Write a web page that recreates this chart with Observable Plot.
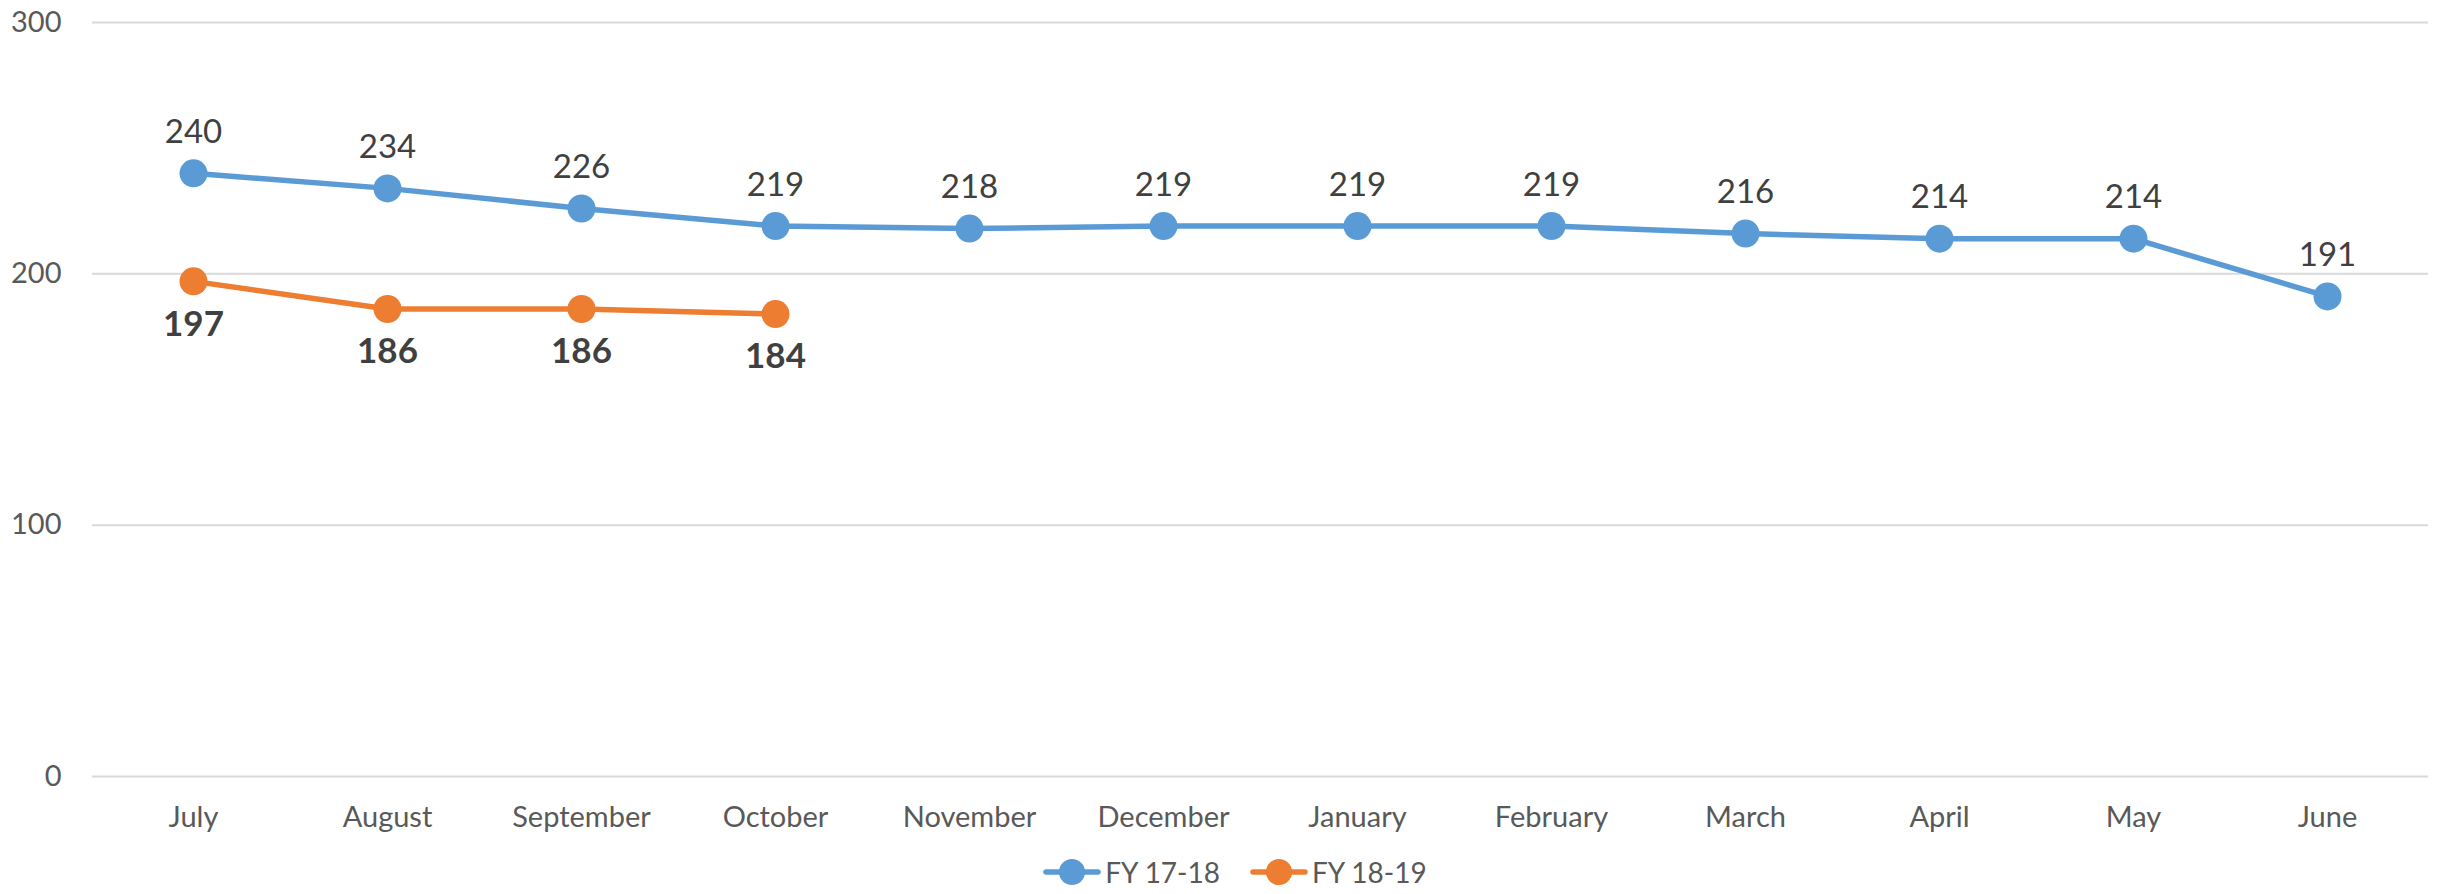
<!DOCTYPE html>
<html>
<head>
<meta charset="utf-8">
<script src="https://cdn.jsdelivr.net/npm/d3@7"></script>
<script src="https://cdn.jsdelivr.net/npm/@observablehq/plot@0.6"></script>
<style>
  html, body { margin: 0; padding: 0; background: #fff; }
  body { width: 2450px; height: 894px; overflow: hidden; font-family: Lato, "Open Sans", sans-serif; }
  #legend { display: flex; justify-content: center; align-items: center; height: 44px; gap: 30px; font-size: 28px; color: #595959; padding-left: 20px; }
  .item { display: flex; align-items: center; gap: 4px; }
</style>
</head>
<body>
<div id="chart"></div>
<div id="legend"></div>
<script>
const months = ["July","August","September","October","November","December","January","February","March","April","May","June"];
const fy1718 = [240,234,226,219,218,219,219,219,216,214,214,191];
const fy1819 = [197,186,186,184];
const seriesNames = ["FY 17-18","FY 18-19"];
const colors = ["#5B9BD5","#ED7D31"];
const yTicks = [0,100,200,300];

const d1 = fy1718.map((v,i) => ({month: months[i], value: v}));
const d2 = fy1819.map((v,i) => ({month: months[i], value: v}));

const chart = Plot.plot({
  width: 2450,
  height: 850,
  marginLeft: 92,
  marginRight: 22,
  marginTop: 22,
  marginBottom: 74,
  style: {fontFamily: "Lato, 'Open Sans', sans-serif", background: "#fff"},
  x: {type: "point", domain: months, padding: 0.5, label: null},
  y: {domain: [0,300], label: null},
  marks: [
    Plot.gridY(yTicks, {stroke: "#d9d9d9", strokeOpacity: 1, strokeWidth: 2}),
    Plot.axisY(yTicks, {tickSize: 0, tickPadding: 31, fontSize: 29, fill: "#595959", label: null}),
    Plot.axisX({tickSize: 0, tickPadding: 30, fontSize: 29, fill: "#595959", label: null}),
    Plot.line(d1, {x: "month", y: "value", stroke: colors[0], strokeWidth: 5.5}),
    Plot.line(d2, {x: "month", y: "value", stroke: colors[1], strokeWidth: 5.5}),
    Plot.dot(d1, {x: "month", y: "value", r: 14, fill: colors[0], stroke: null}),
    Plot.dot(d2, {x: "month", y: "value", r: 14, fill: colors[1], stroke: null}),
    Plot.text(d1, {x: "month", y: "value", text: d => String(d.value), dy: -41, fontSize: 33, fill: "#404040"}),
    Plot.text(d2, {x: "month", y: "value", text: d => String(d.value), dy: 43, fontSize: 35, fontWeight: "bold", fill: "#404040"})
  ]
});
document.getElementById("chart").appendChild(chart);

const legend = document.getElementById("legend");
seriesNames.forEach((name, i) => {
  const item = document.createElement("div");
  item.className = "item";
  item.innerHTML = `<svg width="58" height="30"><line x1="3" y1="15" x2="55" y2="15" stroke="${colors[i]}" stroke-width="5.5" stroke-linecap="round"/><circle cx="29" cy="15" r="13" fill="${colors[i]}"/></svg><span>${name}</span>`;
  legend.appendChild(item);
});
</script>
</body>
</html>
